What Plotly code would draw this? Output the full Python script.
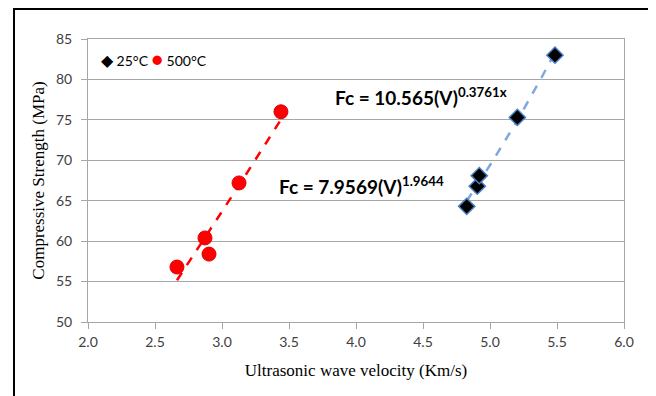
import numpy as np
import plotly.graph_objects as go

# Data
v_25 = [4.826, 4.905, 4.920, 5.204, 5.485]
fc_25 = [64.3, 66.8, 68.1, 75.3, 83.0]
v_500 = [2.664, 2.873, 2.903, 3.127, 3.440]
fc_500 = [56.8, 60.4, 58.4, 67.2, 76.0]

x_ticks = [2.0, 2.5, 3.0, 3.5, 4.0, 4.5, 5.0, 5.5, 6.0]
y_ticks = [50, 55, 60, 65, 70, 75, 80, 85]

series_names = ["25°C", "500°C"]
eq_25 = "<b>Fc = 10.565(V)<sup>0.3761x</sup></b>"
eq_500 = "<b>Fc = 7.9569(V)<sup>1.9644</sup></b>"

# Trend lines fitted from the data (exponential for 25°C, power for 500°C)
x25 = np.array(v_25); y25 = np.array(fc_25)
b25, a25 = np.polyfit(x25, np.log(y25), 1)
t25 = np.linspace(x25.min(), x25.max(), 60)
f25 = np.exp(a25) * np.exp(b25 * t25)

x500 = np.array(v_500); y500 = np.array(fc_500)
b500, a500 = np.polyfit(np.log(x500), np.log(y500), 1)
t500 = np.linspace(x500.min(), x500.max(), 60)
f500 = np.exp(a500) * t500 ** b500

fig = go.Figure()
fig.add_trace(go.Scatter(x=t25, y=f25, mode="lines", showlegend=False,
                         line=dict(color="#7fa8de", width=2.5, dash="dash"), hoverinfo="skip"))
fig.add_trace(go.Scatter(x=t500, y=f500, mode="lines", showlegend=False,
                         line=dict(color="#ff0000", width=2.5, dash="dash"), hoverinfo="skip"))
fig.add_trace(go.Scatter(x=v_25, y=fc_25, mode="markers", name=series_names[0], showlegend=False,
                         marker=dict(symbol="diamond", size=12.5, color="black",
                                     line=dict(color="#4a7fc4", width=1.5))))
fig.add_trace(go.Scatter(x=v_500, y=fc_500, mode="markers", name=series_names[1], showlegend=False,
                         marker=dict(symbol="circle", size=14, color="#ff0000",
                                     line=dict(color="#e00000", width=1))))

fig.add_annotation(x=3.828, y=77.83, xref="x", yref="y", text=eq_25, showarrow=False,
                   xanchor="left", yanchor="middle",
                   font=dict(family="Lato", size=19, color="black"))
fig.add_annotation(x=3.41, y=66.94, xref="x", yref="y", text=eq_500, showarrow=False,
                   xanchor="left", yanchor="middle",
                   font=dict(family="Lato", size=19, color="black"))

# Layout geometry (page body has an 8px margin)
W, H = 656, 396
L, T = 80, 31
R = W - 616
B = H - 314
pw, ph = W - L - R, H - T - B
def px(x): return (x - L) / pw
def py(y): return (H - B - y) / ph

# Compact legend drawn as text
legend_text = ('<span style="color:black;font-size:16px">◆</span> ' + series_names[0] +
               ' <span style="color:#ff0000;font-size:19px">●</span> ' + series_names[1])
fig.add_annotation(xref="paper", yref="paper", x=px(91), y=py(50), text=legend_text,
                   showarrow=False, xanchor="left", yanchor="middle",
                   font=dict(family="Lato", size=14, color="black"))

# Outer black frame
fig.add_shape(type="rect", xref="paper", yref="paper",
              x0=px(6), x1=px(646), y0=py(420), y1=py(1),
              line=dict(color="black", width=2), layer="above")

axis_common = dict(showline=True, linecolor="#a6a6a6", linewidth=1, mirror=True,
                   ticks="outside", ticklen=6, tickcolor="#a6a6a6",
                   tickfont=dict(family="Lato", size=14, color="#404040"),
                   zeroline=False)
fig.update_xaxes(range=[2.0, 6.0], tickvals=x_ticks, ticktext=[f"{v:.1f}" for v in x_ticks],
                 showgrid=False, ticklabelstandoff=1,
                 title=dict(text="Ultrasonic wave velocity (Km/s)", standoff=15,
                            font=dict(family="Liberation Serif", size=17, color="black")),
                 **axis_common)
fig.update_yaxes(range=[50, 85], tickvals=y_ticks, showgrid=True, gridcolor="#a6a6a6",
                 gridwidth=1, ticklabelstandoff=6,
                 title=dict(text="Compressive Strength (MPa)", standoff=7,
                            font=dict(family="Liberation Serif", size=17, color="black")),
                 **axis_common)

fig.update_layout(
    width=W, height=H,
    margin=dict(l=L, r=R, t=T, b=B),
    paper_bgcolor="white", plot_bgcolor="white",
    showlegend=False,
)

fig.write_html("out.html")
